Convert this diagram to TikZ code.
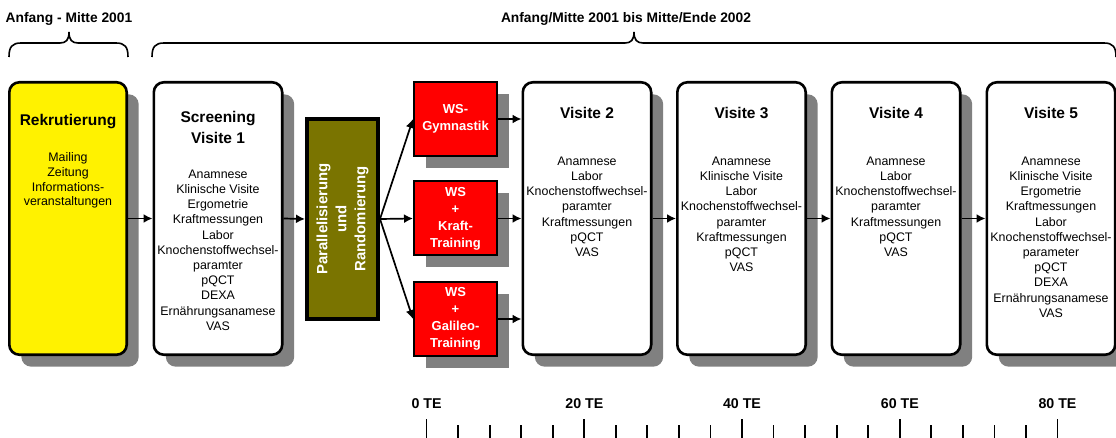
\documentclass[tikz,border=0pt]{standalone}
\usepackage{fontspec}
\setmainfont{Liberation Sans}
\usetikzlibrary{arrows.meta,shadows}
\definecolor{olivebox}{RGB}{122,116,0}
\definecolor{shadowgray}{RGB}{128,128,128}
\begin{document}
\begin{tikzpicture}[x=1pt,y=-1pt,
  phase/.style={draw=black, line width=2.6pt, rounded corners=10pt, fill=white,
    minimum width=128.4pt, minimum height=272.4pt, inner sep=0pt,
    general shadow={fill=shadowgray, shadow xshift=12pt, shadow yshift=-12pt}},
  group/.style={draw=black, line width=2pt, fill=red, minimum width=83pt,
    minimum height=74pt, inner sep=0pt,
    general shadow={fill=shadowgray, shadow xshift=12pt, shadow yshift=-12pt}},
  grouptext/.style={text=white, align=center, inner sep=0pt,
    font=\fontsize{13}{17}\selectfont\bfseries},
  parbox/.style={draw=black, line width=4pt, fill=olivebox, minimum width=71pt,
    minimum height=200pt, inner sep=0pt},
  partext/.style={text=white, align=center, inner sep=0pt, rotate=90,
    font=\fontsize{14.9}{19}\selectfont\bfseries},
  phasetitle/.style={inner sep=0pt, align=center,
    font=\fontsize{15.5}{21}\selectfont\bfseries},
  phasebody/.style={inner sep=0pt, align=center, anchor=north,
    font=\fontsize{12.4}{15.2}\selectfont},
  toplabel/.style={inner sep=0pt, font=\fontsize{13.8}{16}\selectfont\bfseries},
  ticklabel/.style={inner sep=0pt, font=\fontsize{14.2}{16}\selectfont\bfseries},
  arr/.style={line width=1.7pt, -{Latex[length=9pt,width=9pt]}},
  bracepath/.style={line width=1.6pt},
  tick/.style={line width=1.8pt}
]
\useasboundingbox (0,0) rectangle (1116,438);
\fill[white] (0,0) rectangle (1116,438);

% period labels and braces
\node[toplabel] (period1) at (69,19) {Anfang - Mitte 2001};
\node[toplabel] (period2) at (626,19) {Anfang/Mitte 2001 bis Mitte/Ende 2002};
\draw[bracepath] (9,57) .. controls (9,47) and (12,43) .. (21,43) -- (60,43)
  .. controls (66,43) and (69,40) .. (69,32)
  .. controls (69,40) and (72,43) .. (78,43) -- (116,43)
  .. controls (125,43) and (128,47) .. (128,57);
\draw[bracepath] (152,57) .. controls (152,47) and (155,43) .. (164,43) -- (625,43)
  .. controls (631,43) and (634,40) .. (634,32)
  .. controls (634,40) and (637,43) .. (643,43) -- (1104,43)
  .. controls (1113,43) and (1116,47) .. (1116,57);

% phase boxes
\node[phase, fill=yellow, minimum width=117.4pt] (rek) at (68,218.5) {};
\node[phase] (scr) at (218,218.5) {};
\node[phase] (v2) at (587,218.5) {};
\node[phase] (v3) at (741.5,218.5) {};
\node[phase] (v4) at (896,218.5) {};
\node[phase] (v5) at (1051,218.5) {};

% randomisation
\node[parbox] (par) at (342.5,219) {};
\node[partext] (parlabel) at (par.center) {Parallelisierung\\und\\Randomierung};

% training groups
\node[group] (gym) at (455.5,119) {};
\node[grouptext] (gymlabel) at (gym.center) {WS-\\Gymnastik};
\node[group] (kraft) at (455.5,218.5) {};
\node[grouptext] (kraftlabel) at (kraft.center) {WS\\+\\Kraft-\\Training};
\node[group] (gal) at (455.5,319) {};
\node[grouptext] (gallabel) at (gal.center) {WS\\+\\Galileo-\\Training};

% titles
\node[phasetitle, anchor=base] (rekT) at (68,125.5) {Rekrutierung};
\node[phasetitle, anchor=north] (scrT) at (218,111.5) {Screening\\Visite 1};
\node[phasetitle, anchor=base] (v2T) at (587,118.5) {Visite 2};
\node[phasetitle, anchor=base] (v3T) at (741.5,118.5) {Visite 3};
\node[phasetitle, anchor=base] (v4T) at (896,118.5) {Visite 4};
\node[phasetitle, anchor=base] (v5T) at (1051,118.5) {Visite 5};

% contents
\node[phasebody, font=\fontsize{12.4}{14.7}\selectfont] (rekB) at (68,152.5)
  {Mailing\\Zeitung\\Informations-\\veranstaltungen};
\node[phasebody] (scrB) at (218,169.5)
  {Anamnese\\Klinische Visite\\Ergometrie\\Kraftmessungen\\Labor\\Knochenstoffwechsel-\\paramter\\pQCT\\DEXA\\Ernährungsanamese\\VAS};
\node[phasebody] (v2B) at (587,156.5)
  {Anamnese\\Labor\\Knochenstoffwechsel-\\paramter\\Kraftmessungen\\pQCT\\VAS};
\node[phasebody] (v3B) at (741.5,156.5)
  {Anamnese\\Klinische Visite\\Labor\\Knochenstoffwechsel-\\paramter\\Kraftmessungen\\pQCT\\VAS};
\node[phasebody] (v4B) at (896,156.5)
  {Anamnese\\Labor\\Knochenstoffwechsel-\\paramter\\Kraftmessungen\\pQCT\\VAS};
\node[phasebody] (v5B) at (1051,156.5)
  {Anamnese\\Klinische Visite\\Ergometrie\\Kraftmessungen\\Labor\\Knochenstoffwechsel-\\parameter\\pQCT\\DEXA\\Ernährungsanamese\\VAS};

% flow
\draw[arr] (rek.east) -- (scr.west);
\draw[arr] (scr.east) -- (par.west);
\draw[arr] (par.east) -- (gym.west);
\draw[arr] (par.east) -- (kraft.west);
\draw[arr] (par.east) -- (gal.west);
\draw[arr] (gym.east) -- (gym.east -| v2.west);
\draw[arr] (kraft.east) -- (kraft.east -| v2.west);
\draw[arr] (gal.east) -- (gal.east -| v2.west);
\draw[arr] (v2.east) -- (v3.west);
\draw[arr] (v3.east) -- (v4.west);
\draw[arr] (v4.east) -- (v5.west);

% time scale
\foreach \k in {0,...,20} {
  \pgfmathsetmacro\tx{426.5+31.55*\k}
  \ifnum\numexpr\k-5*(\k/5)\relax=0
    \draw[tick] (\tx,419) -- (\tx,438);
  \else
    \draw[tick] (\tx,425) -- (\tx,438);
  \fi
}
\node[ticklabel] (te0) at (426.5,404) {0 TE};
\node[ticklabel] (te20) at (584.3,404) {20 TE};
\node[ticklabel] (te40) at (742,404) {40 TE};
\node[ticklabel] (te60) at (899.8,404) {60 TE};
\node[ticklabel] (te80) at (1057.5,404) {80 TE};
\end{tikzpicture}
\end{document}
